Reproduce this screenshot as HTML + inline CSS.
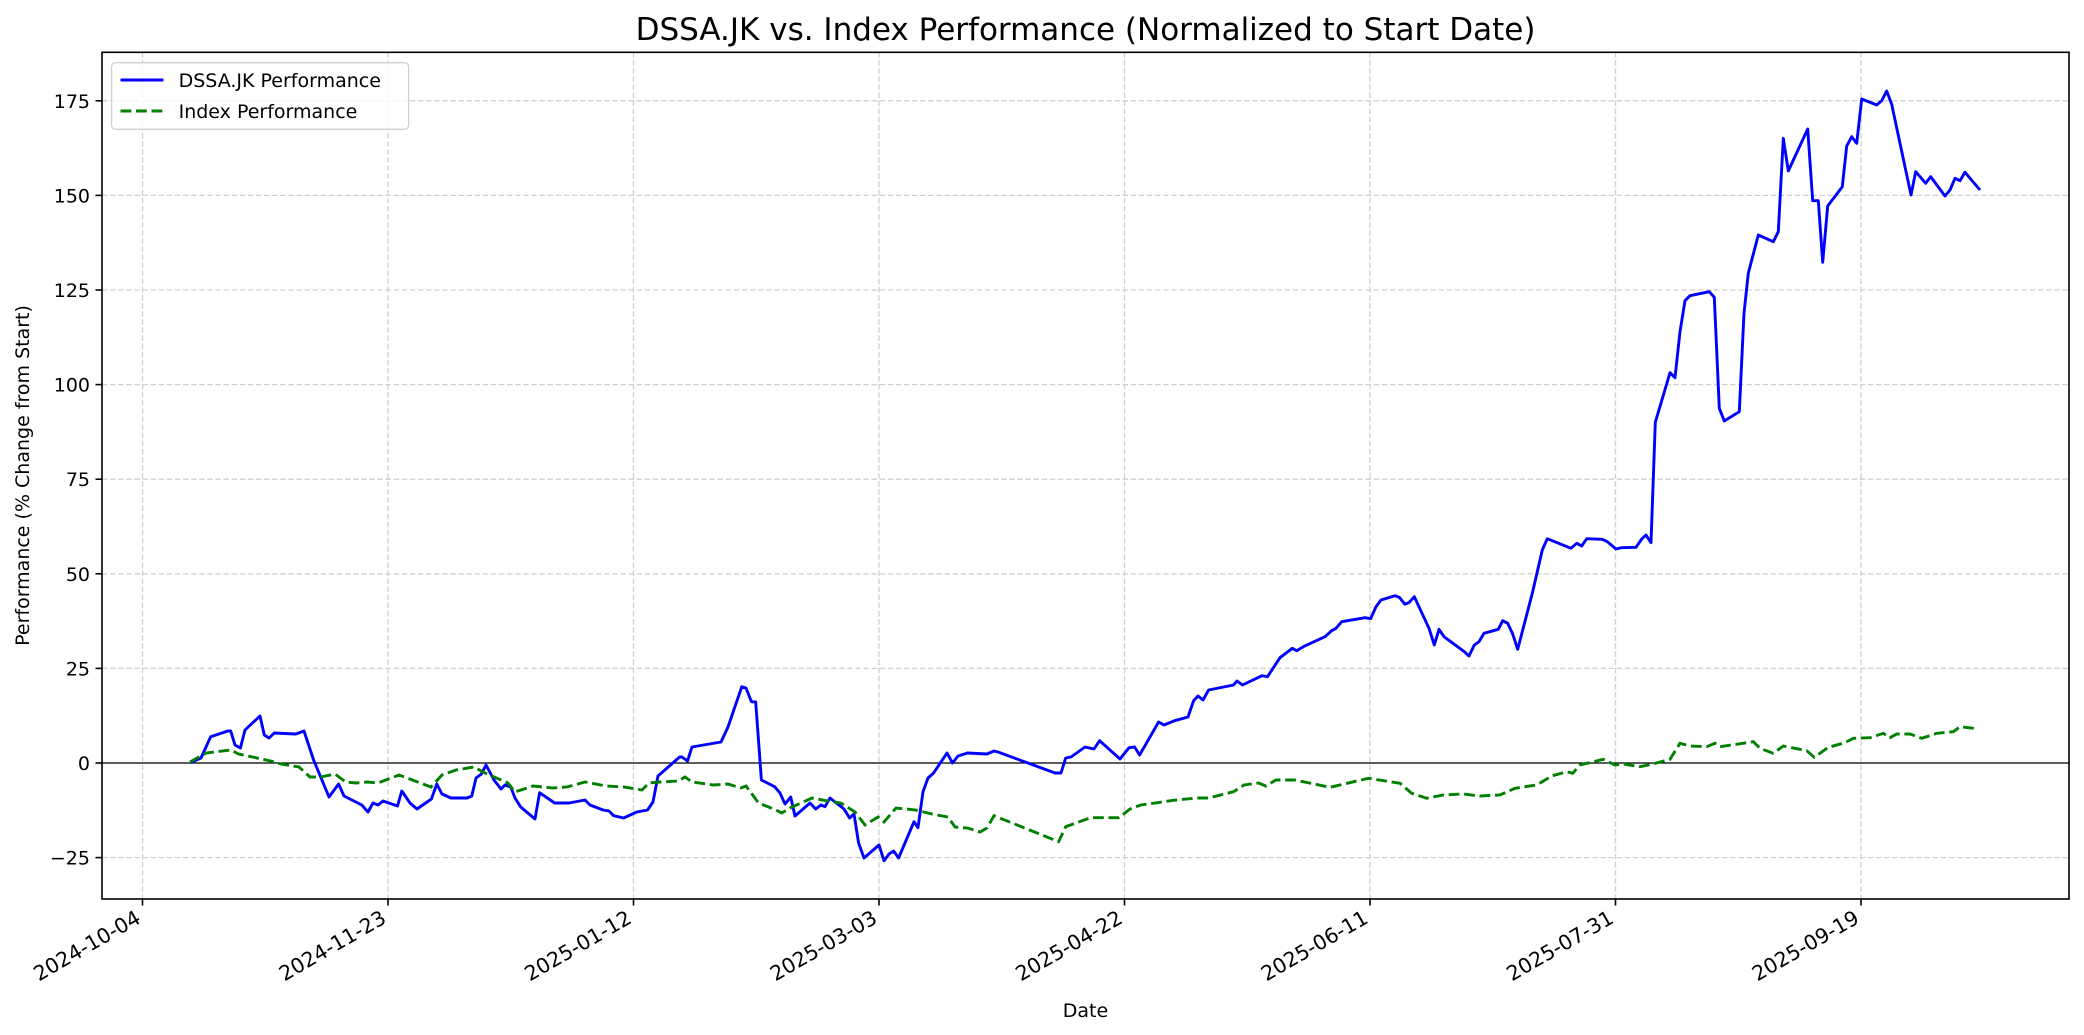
<!DOCTYPE html>
<html><head><meta charset="utf-8"><style>
html,body{margin:0;padding:0;background:#fff;}
svg{display:block;font-family:"DejaVu Sans","Liberation Sans",sans-serif;}
</style></head><body>
<svg width="2084" height="1035" viewBox="0 0 2084 1035" xmlns="http://www.w3.org/2000/svg">
<rect width="2084" height="1035" fill="#fff"/>
<g stroke="#cfcfcf" stroke-width="1.3" stroke-dasharray="5.5,2.6" fill="none">
<line x1="142.5" y1="52" x2="142.5" y2="899"/>
<line x1="388" y1="52" x2="388" y2="899"/>
<line x1="633.5" y1="52" x2="633.5" y2="899"/>
<line x1="879" y1="52" x2="879" y2="899"/>
<line x1="1124.5" y1="52" x2="1124.5" y2="899"/>
<line x1="1370" y1="52" x2="1370" y2="899"/>
<line x1="1615.5" y1="52" x2="1615.5" y2="899"/>
<line x1="1861" y1="52" x2="1861" y2="899"/>
<line x1="102" y1="857.6" x2="2069" y2="857.6"/>
<line x1="102" y1="763" x2="2069" y2="763"/>
<line x1="102" y1="668.4" x2="2069" y2="668.4"/>
<line x1="102" y1="573.8" x2="2069" y2="573.8"/>
<line x1="102" y1="479.2" x2="2069" y2="479.2"/>
<line x1="102" y1="384.6" x2="2069" y2="384.6"/>
<line x1="102" y1="290" x2="2069" y2="290"/>
<line x1="102" y1="195.4" x2="2069" y2="195.4"/>
<line x1="102" y1="100.8" x2="2069" y2="100.8"/>
</g>
<line x1="102" y1="763" x2="2069" y2="763" stroke="#000" stroke-width="1.3"/>
<polyline fill="none" stroke="#0000ff" stroke-width="2.9" stroke-linejoin="round" points="190.4,762.7 201,758 210.7,736.7 227.9,731 230.7,731 235,745 240.4,748 245,730 260,716 264.3,735 269,738 274.3,733 295.7,734 304,731 313.6,760 329,797 338.6,784 344,796 361.8,805 368,812 373,803 378,805 383,801 397.5,806 401.8,791 410,803 417,809 431.4,799 436.8,784 442,794 451,798 467,798 471.8,796 476,778 481.4,774 486,765 494,780 501,789 505,785 510.7,787 515,798 520.7,807 535,819 539.6,792.7 554.6,803 569,803 585,800 590,805 603,810 609,811 613.6,815.7 623.6,818 636.8,812 647.5,810 653,802 658,776 679.6,757 682,757 687.5,761 692,747 721,742 728,727 741.8,686.7 746,688 751.4,701.7 755.7,702 761.4,780 774.6,786.7 780,793 785,804 790.7,797 795,816 810,803 815.7,809 821,805 825,806.7 830,798 844,809 849.6,818 854,814 858.6,843 864,858 879,845 884,860.7 889,854 893.6,851 898.6,858 914,821.7 918,827.7 923,791.7 928,778 933.6,773 947,753 952.5,763 958,756 967.5,753 987,754 994,751 998,752 1055,773 1061,773 1065.7,758 1071,757 1085,747 1094,749 1099.6,740.7 1120,759 1129,747.7 1134.6,747 1139.6,755 1158.6,722 1164,725 1174.6,720.7 1188,717 1193.6,700.7 1198,696 1203,700 1208.6,690 1233.6,685 1237,681 1242.5,685 1262,675.7 1267.5,676.7 1280,657.7 1292.3,648.3 1296.7,650.7 1303.3,646.7 1325,636.7 1331.7,630.7 1336,628.3 1341.7,621.7 1365,617.7 1370.7,618.7 1376,606.7 1381,600 1395,595.7 1399.3,597.3 1405,604.3 1409.3,602.3 1414.3,596.7 1429,628.3 1434.3,645 1439,629.3 1444,636.7 1464.3,651.7 1469,656 1474.3,645 1479,641.7 1484,633.3 1498.3,629.3 1502.7,620.7 1507.7,623.3 1512.7,634 1517.7,649.3 1532.3,593.3 1542.3,550 1547.3,538.7 1571,548.3 1576.7,543.3 1581.7,546 1586.7,538.7 1602.3,539.3 1607.3,541.7 1616,549 1621.7,547.7 1636,547.3 1641.7,539 1646,535 1651,542.7 1655.3,422.3 1670,372.7 1675,377.7 1680,331.7 1685,300.7 1690,295.7 1709.3,291.7 1714.3,297.3 1719.3,408.3 1724.3,421 1739.3,411.7 1744,313.3 1748.3,273.3 1758.3,235 1773.3,241.7 1778.3,231.7 1783.3,138.3 1788.3,171 1807.7,129 1812.7,200.7 1818.3,200.7 1822.7,262.3 1827.7,206 1842.3,186.7 1846.7,146 1851.7,136.7 1856.7,143.3 1861.7,99 1876.7,105 1881.7,100.7 1886.7,91 1891.7,104.3 1911,195 1915.7,171.7 1925.7,183.3 1930.7,176.7 1945,196 1950,190 1955,178.3 1960,180.7 1965,172.3 1980,190"/>
<polyline fill="none" stroke="#008000" stroke-width="2.9" stroke-dasharray="10.8,4.7" points="190,762 199,757 206,753 231,750 238.6,754 270.7,761 281,764 299,767 310,777 320.7,777 335,774 345.7,782 356,783 367,782 378,783 399,775 431,787 442,775 456,770 474,767 485,773 508,783 515,792 533,786 553,788 567,787 585,782 606,786 624,787 642,790 649,783 660,782 678,781 685,777 692,782 713.6,785 728,784 740.7,788 746,786 758.6,803 776,810 781.8,813 790.7,807.7 812,798 826,800.7 840.7,803 855,812 865,825 878,817 884,822 896,808 915.7,810 931.8,814 948,817 955,827 967.5,828 980,832 987,828 994,815.7 1058.6,841.7 1065.7,826.7 1090.7,817.7 1119,817.7 1130,809 1140.7,805 1176,800 1198,798 1208.6,798 1233.6,791.7 1244,785 1258.6,783 1265.7,786 1276,780 1295,780 1330,787.3 1368.3,778.3 1400,783.3 1411.7,793.3 1426.7,798.3 1443.3,795 1463.3,794 1480,796 1500,795 1515,788.3 1536.7,785 1551.7,776 1566.7,771.7 1572.7,773.3 1580,765 1603.3,759.3 1615,765 1623.3,764 1640,766.7 1651.7,764.3 1670,759.3 1680,743.3 1690,746 1706.7,746.7 1715,743.3 1720,746.7 1753.3,741.7 1760,748.3 1773.3,753.3 1783.3,746 1806.7,750.7 1814.3,757.3 1828.3,747.3 1845,742.7 1853.3,738.3 1870,737.7 1883.3,733.3 1890,737.7 1896.7,734 1910,734 1921.7,738.3 1936.7,733.3 1953.3,731.7 1960,726.7 1977.3,728.7"/>
<rect x="102" y="52.3" width="1967" height="846.7" fill="none" stroke="#000" stroke-width="1.6"/>
<g stroke="#000" stroke-width="1.6">
<line x1="142.5" y1="899" x2="142.5" y2="905.5"/><line x1="388" y1="899" x2="388" y2="905.5"/><line x1="633.5" y1="899" x2="633.5" y2="905.5"/><line x1="879" y1="899" x2="879" y2="905.5"/><line x1="1124.5" y1="899" x2="1124.5" y2="905.5"/><line x1="1370" y1="899" x2="1370" y2="905.5"/><line x1="1615.5" y1="899" x2="1615.5" y2="905.5"/><line x1="1861" y1="899" x2="1861" y2="905.5"/>
<line x1="95.5" y1="857.6" x2="102" y2="857.6"/><line x1="95.5" y1="763" x2="102" y2="763"/><line x1="95.5" y1="668.4" x2="102" y2="668.4"/><line x1="95.5" y1="573.8" x2="102" y2="573.8"/><line x1="95.5" y1="479.2" x2="102" y2="479.2"/><line x1="95.5" y1="384.6" x2="102" y2="384.6"/><line x1="95.5" y1="290" x2="102" y2="290"/><line x1="95.5" y1="195.4" x2="102" y2="195.4"/><line x1="95.5" y1="100.8" x2="102" y2="100.8"/>
</g>
<g font-size="19" fill="#000" text-anchor="end">
<text x="90" y="864.5">−25</text><text x="90" y="770">0</text><text x="90" y="675.4">25</text><text x="90" y="580.8">50</text><text x="90" y="486.2">75</text><text x="90" y="391.6">100</text><text x="90" y="297">125</text><text x="90" y="202.4">150</text><text x="90" y="107.8">175</text>
</g>
<g font-size="20.5" fill="#000" text-anchor="end">
<text transform="translate(142,922) rotate(-30)">2024-10-04</text>
<text transform="translate(387.5,922) rotate(-30)">2024-11-23</text>
<text transform="translate(633,922) rotate(-30)">2025-01-12</text>
<text transform="translate(878.5,922) rotate(-30)">2025-03-03</text>
<text transform="translate(1124,922) rotate(-30)">2025-04-22</text>
<text transform="translate(1369.5,922) rotate(-30)">2025-06-11</text>
<text transform="translate(1615,922) rotate(-30)">2025-07-31</text>
<text transform="translate(1860.5,922) rotate(-30)">2025-09-19</text>
</g>
<text x="1085.5" y="1017" font-size="19" text-anchor="middle">Date</text>
<text transform="translate(29,475.5) rotate(-90)" font-size="19" text-anchor="middle">Performance (% Change from Start)</text>
<text x="1085.5" y="40" font-size="31" text-anchor="middle">DSSA.JK vs. Index Performance (Normalized to Start Date)</text>
<rect x="111.6" y="62.7" width="297" height="66.6" rx="4" fill="#fff" fill-opacity="0.8" stroke="#d0d0d0" stroke-width="1.3"/>
<line x1="120.5" y1="80" x2="163.4" y2="80" stroke="#0000ff" stroke-width="2.9"/>
<line x1="120.5" y1="111" x2="163.4" y2="111" stroke="#008000" stroke-width="2.9" stroke-dasharray="10.8,4.7"/>
<text x="178.6" y="87" font-size="19">DSSA.JK Performance</text>
<text x="178.6" y="118" font-size="19">Index Performance</text>
</svg>
</body></html>
